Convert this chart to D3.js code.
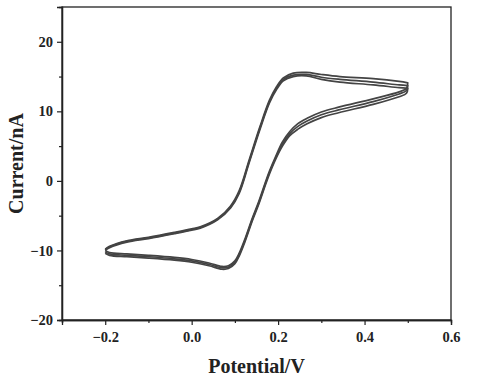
<!DOCTYPE html>
<html>
<head>
<meta charset="utf-8">
<script src="https://cdn.jsdelivr.net/npm/d3@7"></script>
<style>
  html, body { margin: 0; padding: 0; background: #fff; }
  svg { display: block; }
  .tick text { font-family: "Liberation Serif", "Times New Roman", serif; font-weight: bold; font-size: 14.5px; fill: #222; }
  .title { font-family: "Liberation Serif", "Times New Roman", serif; font-weight: bold; font-size: 20px; fill: #222; }
</style>
</head>
<body>
<svg id="chart" width="495" height="391"></svg>
<script>
// ---- data ----
const anodicPotential = [-0.2, -0.19, -0.15, -0.1, -0.04, 0.0, 0.02, 0.06, 0.09, 0.11, 0.133, 0.158, 0.18, 0.197, 0.212, 0.235, 0.265, 0.30, 0.343, 0.42, 0.48, 0.5];
const cathodicPotential = [0.5, 0.497, 0.48, 0.42, 0.34, 0.30, 0.267, 0.245, 0.227, 0.21, 0.195, 0.18, 0.17, 0.155, 0.14, 0.123, 0.11, 0.10, 0.085, 0.07, 0.04, 0.0, -0.04, -0.1, -0.15, -0.19, -0.2];

const cycle1Anodic = [-9.8, -9.4, -8.6, -8.1, -7.4, -6.9, -6.6, -5.4, -3.6, -1.4, 3.0, 7.8, 11.6, 13.6, 14.8, 15.5, 15.6, 15.3, 15.0, 14.7, 14.3, 14.1];
const cycle2Anodic = [-9.9, -9.5, -8.7, -8.2, -7.5, -7.0, -6.7, -5.5, -3.8, -1.6, 2.8, 7.6, 11.4, 13.4, 14.6, 15.2, 15.3, 14.9, 14.6, 14.2, 13.8, 13.7];
const cycle3Anodic = [-10.0, -9.6, -8.8, -8.3, -7.6, -7.1, -6.8, -5.6, -3.9, -1.8, 2.6, 7.4, 11.2, 13.2, 14.4, 15.0, 15.1, 14.6, 14.2, 13.8, 13.4, 13.3];

const cycle1Cathodic = [14.1, 13.3, 12.8, 11.8, 10.6, 9.9, 9.0, 8.2, 7.1, 5.6, 3.6, 1.4, -0.3, -3.0, -5.4, -8.4, -10.4, -11.5, -12.2, -12.3, -11.8, -11.3, -11.0, -10.7, -10.5, -10.3, -10.0];
const cycle2Cathodic = [13.7, 13.0, 12.5, 11.4, 10.2, 9.5, 8.6, 7.8, 6.8, 5.3, 3.4, 1.2, -0.5, -3.2, -5.6, -8.6, -10.6, -11.7, -12.4, -12.5, -12.0, -11.5, -11.2, -10.9, -10.7, -10.5, -10.2];
const cycle3Cathodic = [13.3, 12.6, 12.1, 11.0, 9.8, 9.1, 8.2, 7.4, 6.5, 5.0, 3.2, 1.0, -0.7, -3.4, -5.8, -8.8, -10.8, -11.9, -12.6, -12.7, -12.2, -11.7, -11.4, -11.1, -10.9, -10.7, -10.4];

const xTicks = [-0.2, 0.0, 0.2, 0.4, 0.6];
const xMinorTicks = [-0.3, -0.1, 0.1, 0.3, 0.5];
const yTicks = [-20, -10, 0, 10, 20];
const yMinorTicks = [-15, -5, 5, 15];
const xLabel = "Potential/V";
const yLabel = "Current/nA";

// ---- layout ----
const mLeft = 62, mRight = 451, mTop = 7, mBottom = 320;
const svg = d3.select("#chart");

const x = d3.scaleLinear().domain([-0.3, 0.6]).range([mLeft, mRight]);
const y = d3.scaleLinear().domain([-20, 25]).range([mBottom, mTop]);

const fmtX = v => (v < 0 ? "\u2212" : "") + Math.abs(v).toFixed(1);
const fmtY = v => (v < 0 ? "\u2212" : "") + Math.abs(v);

// curves
const cycles = [
  [cycle1Anodic, cycle1Cathodic],
  [cycle2Anodic, cycle2Cathodic],
  [cycle3Anodic, cycle3Cathodic]
];
const line = d3.line().x(d => x(d[0])).y(d => y(d[1])).curve(d3.curveCatmullRom.alpha(0.5));

cycles.forEach(([an, ca]) => {
  const pts = anodicPotential.map((v, i) => [v, an[i]])
    .concat(cathodicPotential.map((v, i) => [v, ca[i]]));
  svg.append("path")
    .attr("d", line(pts))
    .attr("fill", "none")
    .attr("stroke", "#444")
    .attr("stroke-width", 1.7)
    .attr("stroke-linejoin", "round");
});

// frame
svg.append("rect")
  .attr("x", mLeft).attr("y", mTop)
  .attr("width", mRight - mLeft).attr("height", mBottom - mTop)
  .attr("fill", "none").attr("stroke", "#222").attr("stroke-width", 1.3);

// x axis
svg.append("g").attr("transform", `translate(0,${mBottom})`)
  .call(d3.axisBottom(x).tickValues(xTicks).tickFormat(fmtX).tickSize(5).tickPadding(7));
svg.append("g").attr("transform", `translate(0,${mBottom})`)
  .call(d3.axisBottom(x).tickValues(xMinorTicks).tickFormat("").tickSize(3));

// y axis
svg.append("g").attr("transform", `translate(${mLeft},0)`)
  .call(d3.axisLeft(y).tickValues(yTicks).tickFormat(fmtY).tickSize(5).tickPadding(4));
svg.append("g").attr("transform", `translate(${mLeft},0)`)
  .call(d3.axisLeft(y).tickValues(yMinorTicks).tickFormat("").tickSize(3));

svg.selectAll(".domain").attr("stroke", "#222").attr("stroke-width", 1.3);
svg.selectAll(".tick line").attr("stroke", "#222").attr("stroke-width", 1.2);

// titles
svg.append("text").attr("class", "title")
  .attr("x", (mLeft + mRight) / 2).attr("y", 373)
  .attr("text-anchor", "middle").text(xLabel);
svg.append("text").attr("class", "title")
  .attr("transform", `translate(23,${(mTop + mBottom) / 2}) rotate(-90)`)
  .attr("text-anchor", "middle").text(yLabel);
</script>
</body>
</html>
